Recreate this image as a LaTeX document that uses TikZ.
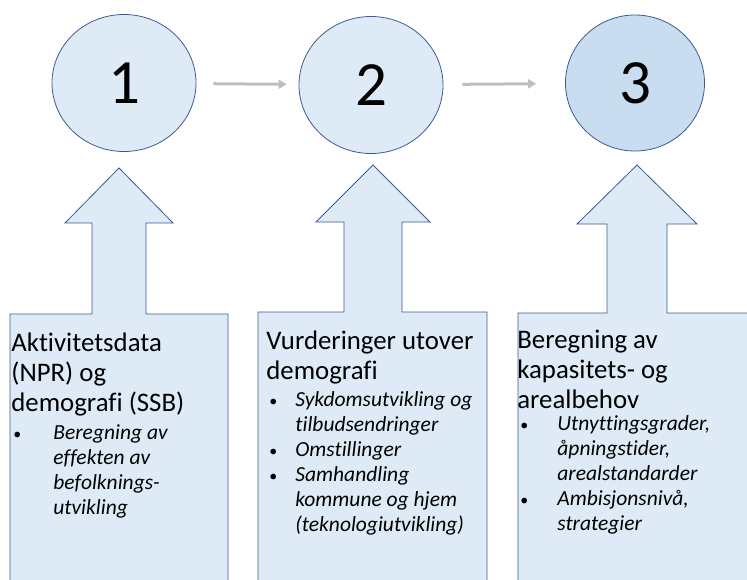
\documentclass[tikz,border=0pt]{standalone}
\usepackage{fontspec}
\setmainfont{Carlito}[Ligatures={NoCommon,NoContextual}]
\usepackage{tikz}
\usetikzlibrary{arrows.meta,shapes.geometric}
\definecolor{fyllblaa}{HTML}{DEEBF7}
\definecolor{fyllmork}{HTML}{C9DDF1}
\definecolor{kantblaa}{HTML}{3A5A96}
\definecolor{pilgraa}{HTML}{BFBFBF}
\newcommand{\prikk}{\textup{\fontsize{16}{25}\selectfont\textbullet}}

\begin{document}
\begin{tikzpicture}[x=1pt, y=-1pt, line width=0.8pt,
    trinn/.style={ellipse, draw=kantblaa, fill=fyllblaa, inner sep=0pt,
      minimum width=144pt, minimum height=137pt, font=\fontsize{63}{70}\selectfont},
    pil/.style={draw=pilgraa, line width=3pt, -{Triangle[length=8pt,width=9pt]}},
    boks/.style={draw=kantblaa, fill=fyllblaa, line join=miter},
    overskrift/.style={inner sep=0pt, anchor=base west, font=\fontsize{26.8}{30}\selectfont},
    punkt/.style={inner sep=0pt, anchor=base west, font=\fontsize{21.5}{25}\selectfont\itshape}]
    \useasboundingbox (0,0) rectangle (747,579);
    \clip (0,0) rectangle (747,579);
    % tre trinn
    \node[trinn] (c1) at (124,83) {1};
    \node[trinn] (c2) at (371,85) {2};
    \node[trinn, fill=fyllmork, minimum width=139pt, minimum height=136pt] (c3) at (635,83) {3};
    \draw[pil, shorten <=17pt, shorten >=12pt] (c1) -- (c2);
    \draw[pil, shorten <=19pt, shorten >=29pt] (c2) -- (c3);
    % bokser med pil opp
    \filldraw[boks] (10,600) -- (10,314) -- (92,314) -- (92,223) -- (65,223) -- (119,168)
        -- (173,223) -- (146,223) -- (146,314) -- (228,314) -- (228,600) -- cycle;
    \filldraw[boks] (258,600) -- (258,312) -- (344,312) -- (344,222) -- (316,222) -- (373,165)
        -- (430,222) -- (402,222) -- (402,312) -- (487,312) -- (487,600) -- cycle;
    \filldraw[boks] (518,600) -- (518,313) -- (607,313) -- (607,224) -- (577,224) -- (637,165)
        -- (697,224) -- (667,224) -- (667,313) -- (760,313) -- (760,600) -- cycle;
    % tekst boks 1
    \node[overskrift] (t1) at (11,351) {\begin{tabular}[t]{@{}l@{}}Aktivitetsdata\\(NPR) og\\demografi (SSB)\end{tabular}};
    \node[punkt] (p1) at (13,439) {\begin{tabular}[t]{@{}p{40pt}@{}l@{}}
        \prikk & Beregning av\\ & effekten av\\ & befolknings-\\ & utvikling\end{tabular}};
    % tekst boks 2
    \node[overskrift] (t2) at (266,349) {\begin{tabular}[t]{@{}l@{}}Vurderinger utover\\demografi\end{tabular}};
    \node[punkt] (p2) at (269,406) {\begin{tabular}[t]{@{}p{26pt}@{}l@{}}
        \prikk & Sykdomsutvikling og\\ & tilbudsendringer\\
        \prikk & Omstillinger\\
        \prikk & Samhandling\\ & kommune og hjem\\ & (teknologiutvikling)\end{tabular}};
    % tekst boks 3
    \node[overskrift] (t3) at (517,348) {\begin{tabular}[t]{@{}l@{}}Beregning av\\kapasitets- og\\arealbehov\end{tabular}};
    \node[punkt] (p3) at (520,430) {\begin{tabular}[t]{@{}p{37pt}@{}l@{}}
        \prikk & Utnyttingsgrader,\\ & åpningstider,\\ & arealstandarder\\
        \prikk & Ambisjonsnivå,\\ & strategier\end{tabular}};
\end{tikzpicture}
\end{document}
